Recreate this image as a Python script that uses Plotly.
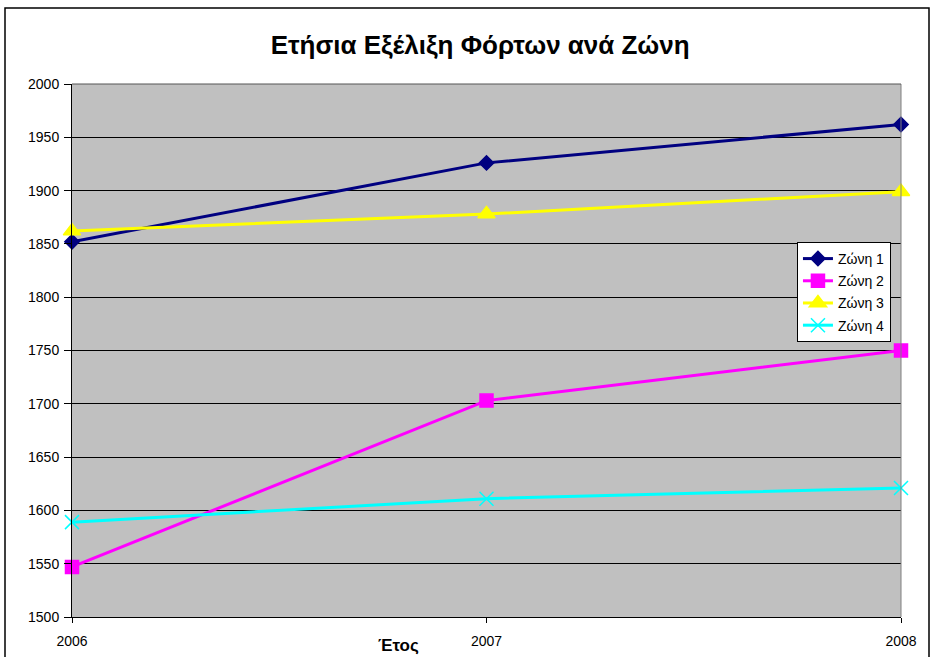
import plotly.graph_objects as go

# Δεδομένα
years = [2006, 2007, 2008]
zone1 = [1852, 1926, 1962]
zone2 = [1547, 1703, 1750]
zone3 = [1862, 1878, 1899]
zone4 = [1589, 1611, 1621]

series = [
    ("Ζώνη 1", zone1, "#000080", "diamond", 11),
    ("Ζώνη 2", zone2, "#FF00FF", "square", 13),
    ("Ζώνη 3", zone3, "#FFFF00", "triangle-up", 15),
    ("Ζώνη 4", zone4, "#00FFFF", "x-thin", 14),
]

font_family = "Arial, Liberation Sans, sans-serif"

fig = go.Figure()
for i, (name, vals, color, symbol, size) in enumerate(series):
    fig.add_trace(go.Scatter(
        x=years, y=vals, name=name, mode="lines+markers",
        legendgroup=str(i),
        line=dict(color=color, width=3),
        marker=dict(symbol=symbol, size=size, color=color,
                    line=dict(color=color, width=1.5)),
        cliponaxis=False,
    ))

fig.update_layout(
    width=936, height=657,
    margin=dict(l=72, r=35, t=84, b=40),
    paper_bgcolor="white",
    plot_bgcolor="#C0C0C0",
    font=dict(family=font_family, size=14, color="black"),
    title=dict(text="<b>Ετήσια Εξέλιξη Φόρτων ανά Ζώνη</b>",
               x=0.513, xanchor="center", y=1 - 45 / 657, yanchor="middle",
               font=dict(size=26, family=font_family)),
    legend=dict(x=0.8745, y=0.7036, xanchor="left", yanchor="top",
                bgcolor="white", bordercolor="black", borderwidth=1,
                font=dict(size=14), tracegroupgap=1, traceorder="grouped",
                itemwidth=30),
    xaxis=dict(range=[2006, 2008], tickvals=years, ticktext=[str(y) for y in years],
               showgrid=False, zeroline=False, showline=True, linecolor="black",
               linewidth=1, ticks="outside", ticklen=5, tickcolor="black",
               ticklabelstandoff=6, automargin=False),
    yaxis=dict(range=[1500, 2000], dtick=50, showgrid=True, gridcolor="black",
               gridwidth=1, zeroline=False, showline=True, linecolor="black",
               linewidth=1, ticks="outside", ticklen=7, tickcolor="black",
               ticklabelstandoff=2, automargin=False),
    showlegend=True,
)

# Πλαίσιο περιοχής σχεδίασης (δεξιά γκρι)
fig.add_shape(type="line", xref="paper", yref="paper", x0=1, x1=1, y0=0, y1=1,
              line=dict(color="#808080", width=1))
fig.add_shape(type="line", xref="paper", yref="paper", x0=0, x1=1, y0=1, y1=1,
              line=dict(color="#555555", width=1))

# Εξωτερικό πλαίσιο γραφήματος
fig.add_shape(type="rect", xref="paper", yref="paper",
              x0=(5 - 72) / 829, x1=(929 - 72) / 829,
              y0=(617 - 662) / 533, y1=(617 - 8) / 533,
              line=dict(color="black", width=1.5), fillcolor="rgba(0,0,0,0)",
              layer="below")

fig.add_annotation(text="<b>Έτος</b>", xref="paper", yref="paper",
                   x=(398 - 72) / 829, y=(617 - 645) / 533,
                   xanchor="center", yanchor="middle", showarrow=False,
                   font=dict(size=17, family=font_family))

fig.write_html("out.html", config={"displayModeBar": False},
               post_script="document.body.style.margin='0';")
